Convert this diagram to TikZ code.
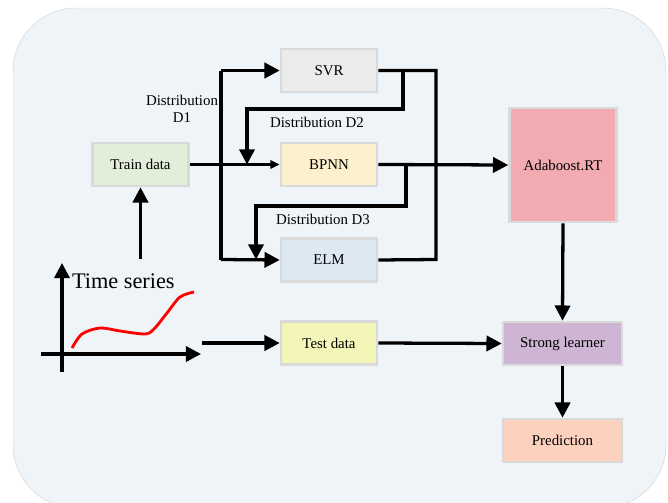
\documentclass[tikz,border=0pt]{standalone}
\usepackage{fontspec}
\setmainfont{Liberation Serif}
\usetikzlibrary{arrows.meta,positioning}
\definecolor{bgblue}{HTML}{EFF4F9}
\definecolor{bordergray}{HTML}{D2D4D6}
\definecolor{boxgray}{HTML}{D9D9D9}
\definecolor{svrgray}{HTML}{EBEBEB}
\definecolor{bpnnyellow}{HTML}{FDF0CE}
\definecolor{elmblue}{HTML}{DDE8F3}
\definecolor{traingreen}{HTML}{E2EDDA}
\definecolor{testyellow}{HTML}{F3F6B8}
\definecolor{adapink}{HTML}{F2ACB1}
\definecolor{stronglilac}{HTML}{CDB5D3}
\definecolor{predpeach}{HTML}{FCD1BD}
\begin{document}
\begin{tikzpicture}[x=0.03cm, y=-0.03cm, font=\fontsize{12.7}{15}\selectfont,
  box/.style={draw=boxgray, line width=2.2pt, minimum width=2.88cm, minimum height=1.29cm, inner sep=0pt},
  wire/.style={line width=2.8pt},
  link/.style={wire, -{Triangle[length=13pt,width=13pt]}},
  thinlink/.style={line width=2.2pt, -{Triangle[length=8pt,width=7pt]}}]
\useasboundingbox (0,0) rectangle (668,503);
% Background panel
\draw[draw=bordergray, fill=bgblue, rounded corners=1.9cm] (13,8) rectangle (666,508);
% Models
\node[box, fill=svrgray] (svr) at (329,70.5) {SVR};
\node[box, fill=bpnnyellow] (bpnn) at (329,164.5) {BPNN};
\node[box, fill=elmblue] (elm) at (329,260) {ELM};
\node[box, fill=traingreen] (train) at (140.5,164.5) {Train data};
\node[box, fill=testyellow] (test) at (329,343) {Test data};
\node[box, fill=adapink, minimum width=3.21cm, minimum height=3.42cm] (ada) at (563,165) {Adaboost.RT};
\node[box, fill=stronglilac, minimum width=3.57cm] (strong) at (562.5,343.5) {Strong learner};
\node[box, fill=predpeach, minimum width=3.57cm] (pred) at (562.5,440.5) {Prediction};
% Labels
\node[align=center] (labd1) at (182,109) {Distribution\\D1};
\node (labd2) at (317,122) {Distribution D2};
\node (labd3) at (323,219) {Distribution D3};
% Left bus
\coordinate (bustop) at (221,70.5);
\coordinate (busbot) at (221,259.5);
\draw[wire] (bustop) -- (busbot);
\draw[link] (bustop) -- (svr.west);
\draw[link] (busbot) -- (elm.west);
\draw[thinlink] (train.east) -- (bpnn.west);
% Right bus
\coordinate (rtop) at (436,70.5);
\coordinate (rbot) at (436,259.5);
\draw[wire] (svr.east) -- (rtop) -- (rbot) -- (elm.east);
\draw[link] (bpnn.east) -- (ada.west);
% Reweighted distributions
\coordinate (dtwoa) at (403,70.5);
\coordinate (dtwob) at (403,109);
\coordinate (dtwoc) at (247,109);
\coordinate (dtwod) at (247,164.5);
\draw[link] (dtwoa) -- (dtwob) -- (dtwoc) -- (dtwod);
\coordinate (dthreea) at (406,164.5);
\coordinate (dthreeb) at (406,206);
\coordinate (dthreec) at (256,206);
\coordinate (dthreed) at (256,259.5);
\draw[link] (dthreea) -- (dthreeb) -- (dthreec) -- (dthreed);
% Time series sketch
\coordinate (yaxlow) at (62,372);
\coordinate (yaxtop) at (62,263);
\coordinate (xaxleft) at (41,354);
\coordinate (xaxright) at (201,354);
\draw[link] (yaxlow) -- (yaxtop);
\draw[link] (xaxleft) -- (xaxright);
\node[anchor=west, font=\fontsize{19}{22}\selectfont] (tslabel) at (68,281) {Time series};
\draw[red, line width=2.4pt] plot[smooth] coordinates {(72,348) (82,334) (100,328) (120,331) (145,334) (154,329) (167,313) (180,297) (194,292)};
% Data flow
\coordinate (tsup) at (140.5,259);
\coordinate (tsright) at (202,343);
\draw[link] (tsup) -- (train.south);
\draw[link] (tsright) -- (test.west);
\draw[link] (test.east) -- (strong.west);
\draw[link] (ada.south) -- (strong.north);
\draw[link] (strong.south) -- (pred.north);
\end{tikzpicture}
\end{document}
